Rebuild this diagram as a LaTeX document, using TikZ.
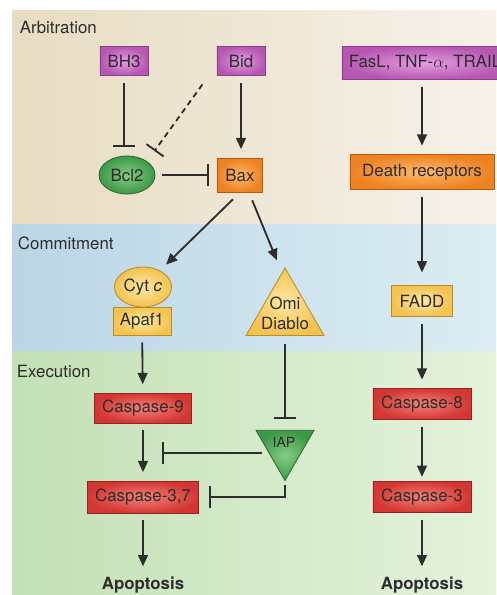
\documentclass[tikz,border=0pt]{standalone}
\usepackage{fontspec}
\setmainfont{TeX Gyre Heros}
\usetikzlibrary{arrows.meta,shapes.geometric}
\definecolor{beigeL}{HTML}{E8DCC2}
\definecolor{beigeR}{HTML}{F6F2EA}
\definecolor{blueL}{HTML}{BBD5E6}
\definecolor{blueR}{HTML}{DCEEF3}
\definecolor{greenL}{HTML}{C3E0B6}
\definecolor{greenR}{HTML}{E4F3DC}
\definecolor{magin}{HTML}{E59CE0}
\definecolor{magout}{HTML}{B657B2}
\definecolor{magline}{HTML}{8A4086}
\definecolor{orin}{HTML}{FDB967}
\definecolor{orout}{HTML}{EE8222}
\definecolor{orline}{HTML}{B35C12}
\definecolor{yelin}{HTML}{FEE7A4}
\definecolor{yelout}{HTML}{F4C24E}
\definecolor{yelline}{HTML}{B58D2C}
\definecolor{redin}{HTML}{F2817A}
\definecolor{redout}{HTML}{D43733}
\definecolor{redline}{HTML}{962121}
\definecolor{grnin}{HTML}{86CC84}
\definecolor{grnout}{HTML}{3C9846}
\definecolor{grnline}{HTML}{2A6A31}
\definecolor{ink}{HTML}{2D2D2D}
\begin{document}
\begin{tikzpicture}[x=0.025cm, y=-0.025cm,
    font=\fontsize{12}{14}\selectfont,
    every node/.style={text=ink},
    box/.style={draw, line width=0.6pt, inner sep=0pt},
    magbox/.style={box, draw=magline, inner color=magin, outer color=magout},
    orbox/.style={box, draw=orline, inner color=orin, outer color=orout},
    yelbox/.style={box, draw=yelline, inner color=yelin, outer color=yelout},
    redbox/.style={box, draw=redline, inner color=redin, outer color=redout},
    grnell/.style={box, ellipse, draw=grnline, inner color=grnin, outer color=grnout},
    yelell/.style={box, ellipse, draw=yelline, inner color=yelin, outer color=yelout},
    yeltri/.style={box, regular polygon, regular polygon sides=3, outer sep=0pt,
      draw=yelline, inner color=yelin, outer color=yelout},
    grntri/.style={box, regular polygon, regular polygon sides=3, outer sep=0pt,
      shape border rotate=180, draw=grnline, inner color=grnin, outer color=grnout},
    act/.style={draw=ink, line width=1.3pt, -{Triangle[length=8pt,width=7pt]},
      shorten <=5pt, shorten >=6pt},
    inh/.style={draw=ink, line width=1.3pt, -{Bar[width=15pt,line width=1.3pt]},
      shorten <=5pt, shorten >=6pt}]
\useasboundingbox (0,0) rectangle (496,595);
% bands
\fill[white] (0,0) rectangle (496,595);
\shade[left color=beigeL, right color=beigeR] (12,10) rectangle (496,224);
\shade[left color=blueL, right color=blueR] (12,224) rectangle (496,351);
\shade[left color=greenL, right color=greenR] (12,351) rectangle (496,595);
\node[anchor=west] (arb) at (15,27) {Arbitration};
\node[anchor=west] (com) at (13,243) {Commitment};
\node[anchor=west] (exe) at (12,371) {Execution};

% arbitration
\node[magbox, minimum width=1.2cm, minimum height=0.725cm] (bh3) at (124,61) {BH3};
\node[magbox, minimum width=1.2cm, minimum height=0.725cm] (bid) at (241,61) {Bid};
\node[magbox, minimum width=4.15cm, minimum height=0.825cm] (fasl) at (425,63) {FasL, TNF-$\alpha$, TRAIL};
\node[grnell, minimum width=1.4cm, minimum height=0.95cm] (bcl2) at (127,175) {Bcl2};
\node[orbox, minimum width=1.125cm, minimum height=0.85cm] (bax) at (240,175) {Bax};
\node[orbox, minimum width=3.6cm, minimum height=0.875cm] (dr) at (422,172) {Death receptors};

% commitment
\node[yelbox, minimum width=1.45cm, minimum height=0.7cm] (apaf) at (142,321) {Apaf1};
\node[yelell, minimum width=1.425cm, minimum height=1cm] (cytc) at (143,287) {Cyt \textit{c}};
\node[yeltri, minimum size=2.25cm] (omi) at (285,313) {};
\node[align=center, inner sep=0pt] (omitext) at (omi.center) {Omi\\Diablo};
\node[yelbox, minimum width=1.525cm, minimum height=0.775cm] (fadd) at (422,301) {FADD};

% execution
\node[redbox, minimum width=2.425cm, minimum height=0.75cm] (c9) at (143,408) {Caspase-9};
\node[redbox, minimum width=2.775cm, minimum height=0.8cm] (c37) at (143,497) {Caspase-3,7};
\node[grntri, minimum size=1.675cm] (iap) at (285,447) {};
\node[font=\fontsize{10}{12}\selectfont, inner sep=0pt] (iaptext) at (284,442) {IAP};
\node[redbox, minimum width=2.45cm, minimum height=0.775cm] (c8) at (422,404) {Caspase-8};
\node[redbox, minimum width=2.45cm, minimum height=0.775cm] (c3) at (422,497) {Caspase-3};
\node[font=\bfseries\fontsize{12}{14}\selectfont] (apo1) at (143,585) {Apoptosis};
\node[font=\bfseries\fontsize{12}{14}\selectfont] (apo2) at (422,585) {Apoptosis};
\coordinate (c9bar) at (162,453);

% connectors
\draw[inh] (bh3.south) -- (bh3.south |- bcl2.north);
\draw[inh, dash pattern=on 4pt off 3pt, shorten <=7.5pt, shorten >=9pt] ([xshift=-0.2cm]bid.south west) -- (bcl2.north east);
\draw[act] (bid.south) -- (bid.south |- bax.north);
\draw[inh] (bcl2) -- (bax);
\draw[act, shorten <=7pt] (bax.south) -- (cytc);
\draw[act, shorten <=6pt] ([xshift=0.225cm]bax.south) -- ([xshift=-0.125cm]omi.north);
\draw[act] (dr.north |- fasl.south) -- (dr.north);
\draw[act, shorten >=9pt] (dr) -- (fadd);
\draw[act] (apaf) -- (c9);
\draw[act] (fadd) -- (c8);
\draw[inh, shorten <=6pt, shorten >=8pt] (omi.south) -- (iap.north);
\draw[act] (c9) -- (c37);
\draw[inh, shorten <=2.5pt, shorten >=0pt] (iap.west |- c9bar) -- (c9bar);
\draw[inh, shorten <=3pt, shorten >=7.5pt] (iap.south) |- (c37.east);
\draw[act, shorten >=3pt] (c8) -- (c3);
\draw[act, shorten >=4pt] (c37) -- (apo1);
\draw[act, shorten >=4pt] (c3) -- (apo2);
\end{tikzpicture}
\end{document}
